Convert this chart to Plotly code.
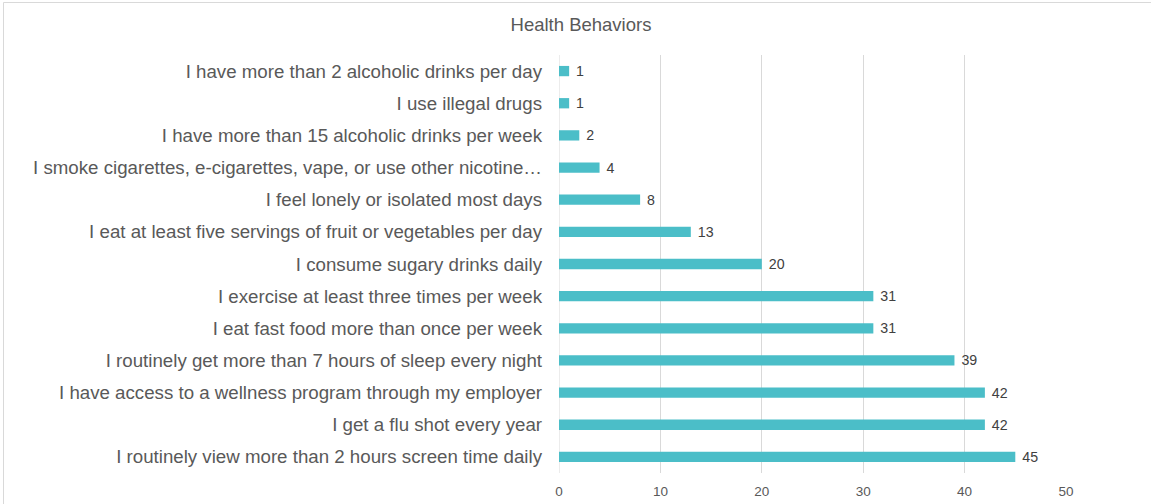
import plotly.graph_objects as go

title = "Health Behaviors"
categories = [
    "I have more than 2 alcoholic drinks per day",
    "I use illegal drugs",
    "I have more than 15 alcoholic drinks per week",
    "I smoke cigarettes, e-cigarettes, vape, or use other nicotine\u2026",
    "I feel lonely or isolated most days",
    "I eat at least five servings of fruit or vegetables per day",
    "I consume sugary drinks daily",
    "I exercise at least three times per week",
    "I eat fast food more than once per week",
    "I routinely get more than 7 hours of sleep every night",
    "I have access to a wellness program through my employer",
    "I get a flu shot every year",
    "I routinely view more than 2 hours screen time daily",
]
values = [1, 1, 2, 4, 8, 13, 20, 31, 31, 39, 42, 42, 45]
x_ticks = [0, 10, 20, 30, 40, 50]

FONT = "Liberation Sans, Arial, sans-serif"
TXT = "#595959"

fig = go.Figure(
    go.Bar(
        x=values,
        y=categories,
        orientation="h",
        marker=dict(color="#4BBEC8", line=dict(width=0)),
        width=0.32,
        texttemplate="\u00a0%{x}",
        textposition="outside",
        constraintext="none",
        cliponaxis=False,
        textfont=dict(family=FONT, size=14.2, color="#404040"),
        hoverinfo="skip",
    )
)

W, H = 1151, 504
L, R, T, B = 559, 1151 - 1066, 55, 504 - 473
fig.update_layout(
    width=W,
    height=H,
    margin=dict(l=L, r=R, t=T, b=B, pad=0, autoexpand=False),
    paper_bgcolor="white",
    plot_bgcolor="white",
    showlegend=False,
    title=dict(
        text=title,
        x=581 / W,
        xref="container",
        xanchor="center",
        y=1 - 25 / H,
        yref="container",
        yanchor="middle",
        font=dict(family=FONT, size=18.5, color=TXT),
    ),
    font=dict(family=FONT, color=TXT),
)
fig.update_xaxes(
    range=[0, 50],
    tickvals=x_ticks,
    ticktext=[str(t) for t in x_ticks],
    showgrid=True,
    gridcolor="#D9D9D9",
    gridwidth=1,
    zeroline=False,
    showline=False,
    ticks="",
    ticklen=0,
    ticklabelstandoff=8,
    automargin=False,
    tickfont=dict(family=FONT, size=13.5, color=TXT),
)
fig.update_yaxes(
    autorange="reversed",
    showgrid=False,
    showline=False,
    ticks="",
    ticklen=0,
    ticklabelstandoff=16,
    automargin=False,
    tickfont=dict(family=FONT, size=18.7, color=TXT),
)
# vertical line at zero (the category axis line)
fig.add_shape(
    type="line", xref="x", yref="paper", x0=0, x1=0, y0=0, y1=1.0,
    line=dict(color="#D9D9D9", width=1), layer="below",
)
# chart border
pw = W - L - R
ph = H - T - B
fig.add_shape(
    type="rect", xref="paper", yref="paper",
    x0=(3.5 - L) / pw, x1=(W + 5 - L) / pw,
    y0=-(B + 5) / ph, y1=1 + (T - 2.5) / ph,
    line=dict(color="#D9D9D9", width=1), fillcolor="rgba(0,0,0,0)", layer="below",
)
fig.write_html(
    "out.html",
    config={"displayModeBar": False},
    post_script="document.body.style.margin='0';",
)
